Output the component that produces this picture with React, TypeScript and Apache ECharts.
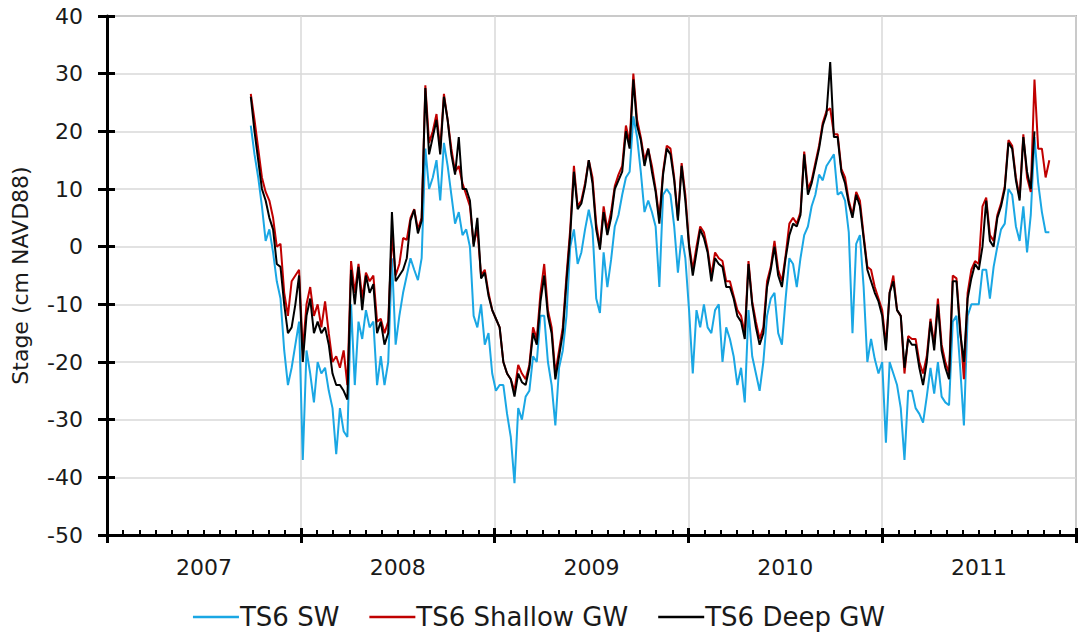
import React, { useEffect, useRef } from "react";
import * as echarts from "echarts";

// Weekly samples starting 2007-09-29 (day 271 after 2007-01-01)
const START_DAY_OF_YEAR = 271;
const STEP_DAYS = 7;
const YEARS = ["2007", "2008", "2009", "2010", "2011"];
const Y_TICKS = [-50, -40, -30, -20, -10, 0, 10, 20, 30, 40];

const SW = [
  21, 16, 12, 7, 1, 3, -1, -6, -9, -18, -24, -21, -17, -13, -37, -18, -22, -27, -20, -22,
  -21, -25, -28, -36, -28, -32, -33, -10, -24, -13, -16, -11, -14, -13, -24, -19, -24, -20, -2, -17,
  -12, -8, -5, -2, -4, -5.8, -2, 17, 10, 12, 15, 8, 18, 14, 9, 4, 6, 2, 3, 0,
  -12, -14, -10, -17, -15, -22, -25, -24, -24, -29, -33, -41, -28, -30, -26, -25, -19, -20, -12, -12,
  -20, -24, -31, -21, -18, -12, 0, 3, -3, -1, 3, 6.4, 3, -9, -11.5, -1, -7, -2.3, 3.5, 5.5,
  9, 12, 13, 22.6, 19, 13, 6, 8, 6, 3.5, -7, 9, 10, 9, 3.5, -4.5, 2, -2, -11, -22,
  -11, -14, -10, -14, -15, -11, -10, -20, -14, -16, -19, -24, -21, -27, -11, -19, -22, -25, -20, -12,
  -9, -8, -15, -17, -9, -2, -3, -7, -2, 2, 3.5, 7, 9, 12.5, 11.5, 14, 15, 16, 9, 9.5,
  8, 2.5, -15, 0.5, 2, -7, -20, -16, -19.5, -22, -20, -34, -20, -22, -24, -28, -37, -25, -25, -28,
  -29, -30.5, -26, -21, -25.5, -20, -26, -27, -27.5, -13, -12, -21, -31, -12, -10, -10, -10, -4, -4, -9,
  -3.5, 0, 3, 4, 10, 9, 3.5, 1, 7, -1, 5.5, 19, 11, 6, 2.5, 2.5,
];

const SHALLOW = [
  26.5, 22, 17, 12, 9.5, 8, 5, 0, 0.5, -8, -12, -6, -5, -4, -18, -10, -7, -12, -10, -14,
  -9.5, -15, -20, -19, -21, -18, -24, -2.5, -8, -3, -9, -4.5, -6, -5, -13, -12.5, -15, -13, 2, -5,
  -3, 1.5, 1.2, 5, 6.5, 3, 5, 28, 18, 20, 23, 17, 26.5, 22, 17, 13, 14, 11, 9, 7,
  0.5, 3, -5, -4, -8, -11, -12.5, -14, -20, -22, -23, -25, -20.5, -22, -23, -20.5, -14, -16, -8, -3,
  -11, -14, -22, -18, -14, -5, 3, 14, 7, 8, 11, 15, 12, 4, 0, 7, 3, 6, 10.5, 12.5,
  14, 21, 18, 30, 22, 19, 15, 17, 14, 10, 5, 13, 17.5, 17, 12, 5, 14.5, 9, 0.5, -4,
  0, 3.5, 2.5, -0.5, -5, -1, -2, -2.5, -6, -6, -8.5, -11, -12, -15, -2.5, -9.5, -13, -16, -14, -6,
  -3.5, 1, -4, -6, -1.5, 4, 5, 4, 6, 16.5, 10, 11.5, 14.5, 17.5, 21.5, 23.5, 24, 19.5, 19.5, 13.5,
  12, 8, 5.5, 9.5, 8, 2, -3.5, -4, -7, -9, -11, -17, -8, -5, -11, -12, -22, -15.5, -16, -16,
  -20, -22, -19, -12.5, -17, -9, -17, -20, -22, -5, -5.5, -14, -23, -8, -4, -2.5, -3, 7, 8.5, 2,
  1, 5.5, 7.5, 10.5, 18.5, 17.5, 12, 8.5, 19.5, 12, 9.5, 29, 17, 17, 12, 15,
];

const DEEP = [
  26, 20, 15, 10, 8, 5, 3, -3, -3.5, -10, -15, -14, -10, -5, -20, -12, -9, -15, -13, -15,
  -14, -17, -22, -24, -24, -25, -26.5, -4, -10, -3.5, -11, -5, -8, -6.5, -15, -13, -17, -15, 6, -6,
  -5, -4, -2, 4.5, 6.4, 2.3, 4.5, 27.5, 16, 19, 22, 16, 26, 22, 16, 12.5, 19, 10, 10, 8,
  0, 5, -5.5, -4.5, -8.5, -11, -12.5, -14, -20, -22, -23, -26, -22, -23.5, -24, -21, -15, -17, -9.5, -5,
  -12, -15, -23, -19, -15, -6, 2, 13, 6.5, 7.5, 10.5, 15, 11, 3, -0.5, 6, 2, 5, 10, 11.5,
  13, 20, 17, 29, 21, 18.5, 14, 17, 13, 9.5, 4, 12.5, 17, 16, 11.5, 4.5, 14, 8, 0, -5,
  -1, 3, 1.5, -1, -6, -2, -3, -3.5, -7, -7, -9, -12, -13, -16, -3, -10, -14, -17, -15, -7,
  -4, 0, -5, -7, -2, 2, 4, 3.5, 5.5, 16, 9, 11, 14, 17, 21, 23, 32, 19, 19, 13,
  11, 7.5, 5, 9, 7, 1.5, -4, -6, -8, -9.5, -12, -18, -8, -6, -11, -12, -21, -16, -17, -17,
  -21, -24, -20, -13, -18, -10, -18, -21, -23, -6, -6, -15, -20, -9, -5.5, -3, -4, 0, 8, 1,
  0, 5, 7, 10, 18, 17, 11.5, 8, 19, 13, 10, 20, null, null, null, null,
];

const FONT = "'DejaVu Sans', 'Liberation Sans', Arial, sans-serif";
const TEXT_COLOR = "#1a1a1a";

function toPairs(values: (number | null)[]) {
  return values.map((v, i) => [2007 + (START_DAY_OF_YEAR + STEP_DAYS * i) / 365.25, v]);
}

export default function App() {
  const ref = useRef<HTMLDivElement>(null);
  useEffect(() => {
    if (!ref.current) return;
    const chart = echarts.init(ref.current, undefined, { renderer: "svg" });
    const yMin = Y_TICKS[0];
    const yMax = Y_TICKS[Y_TICKS.length - 1];
    chart.setOption({
      animation: false,
      backgroundColor: "#ffffff",
      textStyle: { fontFamily: FONT },
      grid: {
        left: 107,
        right: 2,
        top: 16,
        bottom: 103,
        show: true,
        borderColor: "#808080",
        borderWidth: 1.5,
      },
      legend: {
        left: "center",
        top: 599,
        icon: "rect",
        itemWidth: 46,
        itemHeight: 2.5,
        itemGap: 30,
        data: ["TS6 SW", "TS6 Shallow GW", "TS6 Deep GW"],
        textStyle: { fontSize: 26, color: TEXT_COLOR, fontFamily: FONT, padding: [0, 0, 0, -4] },
      },
      xAxis: [
        {
          type: "value",
          min: 2007,
          max: 2012,
          interval: 1,
          position: "bottom",
          axisLine: { show: true, onZero: false, lineStyle: { color: "#000", width: 3 } },
          axisTick: { show: true, inside: true, length: 7, lineStyle: { color: "#000", width: 3 } },
          minorTick: { show: true, splitNumber: 12, length: 5, lineStyle: { color: "#000", width: 2 } },
          axisLabel: { show: false },
          splitLine: { show: true, lineStyle: { color: "#d9d9d9", width: 1.5 } },
        },
        {
          type: "category",
          data: YEARS,
          position: "bottom",
          boundaryGap: true,
          axisLine: { show: false, onZero: false },
          axisTick: { show: false },
          axisLabel: { fontSize: 22, color: TEXT_COLOR, margin: 21, fontFamily: FONT },
          splitLine: { show: false },
        },
        {
          type: "value",
          min: 2007,
          max: 2012,
          interval: 1,
          position: "bottom",
          axisLine: { show: false, onZero: false },
          axisTick: { show: true, inside: false, length: 8, lineStyle: { color: "#000", width: 3 } },
          axisLabel: { show: false },
          splitLine: { show: false },
        },
      ],
      yAxis: [
        {
          type: "value",
          min: yMin,
          max: yMax,
          interval: 10,
          position: "left",
          name: "Stage (cm NAVD88)",
          nameLocation: "middle",
          nameGap: 76,
          nameTextStyle: { fontSize: 22, color: TEXT_COLOR, fontFamily: FONT },
          axisLine: { show: true, onZero: false, lineStyle: { color: "#000", width: 3 } },
          axisTick: { show: true, inside: false, length: 9, lineStyle: { color: "#000", width: 3 } },
          axisLabel: { fontSize: 22, color: TEXT_COLOR, margin: 24, fontFamily: FONT },
          splitLine: { show: true, lineStyle: { color: "#d9d9d9", width: 1.5 } },
        },
        {
          type: "value",
          min: yMin,
          max: yMax,
          interval: 10,
          position: "left",
          axisLine: { show: false, onZero: false },
          axisTick: { show: true, inside: true, length: 8, lineStyle: { color: "#000", width: 3 } },
          axisLabel: { show: false },
          splitLine: { show: false },
        },
      ],
      series: [
        {
          name: "TS6 SW",
          type: "line",
          xAxisIndex: 0,
          yAxisIndex: 0,
          symbol: "none",
          data: toPairs(SW),
          lineStyle: { color: "#1aa7e4", width: 2 },
          itemStyle: { color: "#1aa7e4" },
        },
        {
          name: "TS6 Shallow GW",
          type: "line",
          xAxisIndex: 0,
          yAxisIndex: 0,
          symbol: "none",
          data: toPairs(SHALLOW),
          lineStyle: { color: "#c00000", width: 2 },
          itemStyle: { color: "#c00000" },
        },
        {
          name: "TS6 Deep GW",
          type: "line",
          xAxisIndex: 0,
          yAxisIndex: 0,
          symbol: "none",
          data: toPairs(DEEP),
          lineStyle: { color: "#000000", width: 2 },
          itemStyle: { color: "#000000" },
        },
      ],
    });
    return () => chart.dispose();
  }, []);
  return (
    <div
      ref={ref}
      style={{ position: "fixed", left: 0, top: 0, width: 1078, height: 638, background: "#fff" }}
    />
  );
}
